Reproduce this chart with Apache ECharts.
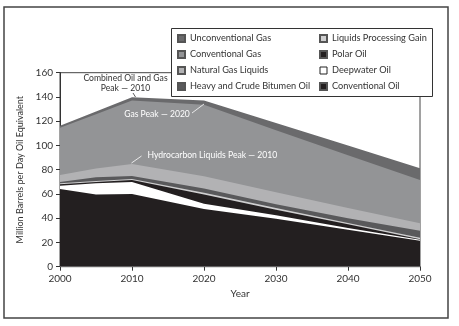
<!DOCTYPE html>
<html>
<head>
<meta charset="utf-8">
<script src="https://cdn.jsdelivr.net/npm/echarts@6/dist/echarts.min.js"></script>
<style>
html,body{margin:0;padding:0;background:#fff;}
#chart{width:459px;height:326px;}
</style>
</head>
<body>
<div id="chart"></div>
<script>
var years = [2000, 2005, 2010, 2020, 2030, 2040, 2050];
var conventionalOil = [64, 59.5, 60, 47.5, 39.5, 30.5, 21.5];
var deepwaterOil = [2.8, 9.3, 9.9, 4.5, 3, 1.5, 0.7];
var polarOil = [1.2, 1.1, 1.6, 7.5, 4.5, 3, 0.4];
var liquidsProcessingGain = [0.8, 0.8, 0.8, 1.5, 1.5, 1, 1.3];
var heavyBitumenOil = [1.0, 3.0, 2.5, 3.5, 3, 4, 5.8];
var naturalGasLiquids = [5.8, 7.3, 9.9, 10, 10, 8.5, 6.1];
var conventionalGas = [38.9, 44.8, 52.3, 59, 51, 43.5, 35.7];
var unconventionalGas = [1.8, 2.2, 2.7, 3.5, 6, 8, 9.6];
var yTicks = [0, 20, 40, 60, 80, 100, 120, 140, 160];
var xTicks = [2000, 2010, 2020, 2030, 2040, 2050];

var layers = [
  {name: 'Conventional Oil', data: conventionalOil, color: '#231f20'},
  {name: 'Deepwater Oil', data: deepwaterOil, color: '#ffffff'},
  {name: 'Polar Oil', data: polarOil, color: '#231f20'},
  {name: 'Liquids Processing Gain', data: liquidsProcessingGain, color: '#cfcfd0'},
  {name: 'Heavy and Crude Bitumen Oil', data: heavyBitumenOil, color: '#59595b'},
  {name: 'Natural Gas Liquids', data: naturalGasLiquids, color: '#b2b2b4'},
  {name: 'Conventional Gas', data: conventionalGas, color: '#939496'},
  {name: 'Unconventional Gas', data: unconventionalGas, color: '#6a6a6c'}
];

var FONT = 'Lato';
var chart = echarts.init(document.getElementById('chart'), null, {renderer: 'canvas'});

// cumulative tops of the stacked layers
var running = years.map(function () { return 0; });
var series = layers.map(function (l) {
  running = running.map(function (v, i) { return v + l.data[i]; });
  var tops = running.slice();
  return {
    name: l.name,
    type: 'line',
    showSymbol: false,
    symbol: 'none',
    data: years.map(function (y, i) { return [y, tops[i]]; }),
    lineStyle: {width: 0, color: l.color},
    itemStyle: {color: l.color, borderColor: '#555', borderWidth: 0.6},
    areaStyle: {color: l.color, opacity: 1, origin: 'start'},
    emphasis: {disabled: true},
    animation: false
  };
}).reverse();

function legendItem(name) {
  var item = {name: name};
  if (name === 'Deepwater Oil') item.itemStyle = {borderColor: '#222', borderWidth: 1};
  return item;
}

var legendCommon = {
  orient: 'vertical',
  icon: 'rect',
  itemWidth: 7,
  itemHeight: 7,
  itemGap: 5,
  padding: 0,
  z: 20,
  selectedMode: false,
  textStyle: {fontFamily: FONT, fontSize: 9.2, lineHeight: 11, color: '#333'}
};

chart.setOption({
  animation: false,
  textStyle: {fontFamily: FONT},
  grid: {left: 60, right: 39, top: 72.7, bottom: 59.3, show: true, borderColor: '#444', borderWidth: 1, backgroundColor: 'transparent'},
  xAxis: {
    type: 'value', min: 2000, max: 2050, interval: 10,
    name: 'Year', nameLocation: 'middle', nameGap: 22,
    nameTextStyle: {fontFamily: FONT, fontSize: 10, color: '#333'},
    axisLine: {lineStyle: {color: '#333', width: 1}},
    axisTick: {show: true, length: 4, lineStyle: {color: '#333'}},
    axisLabel: {fontFamily: FONT, fontSize: 10, color: '#333', margin: 7,
      formatter: function (v) { return xTicks.indexOf(v) >= 0 ? String(v) : ''; }},
    splitLine: {show: false}
  },
  yAxis: {
    type: 'value', min: 0, max: 160, interval: 20,
    name: 'Million Barrels per Day Oil Equivalent', nameLocation: 'middle', nameGap: 19,
    nameTextStyle: {fontFamily: FONT, fontSize: 9, color: '#333'},
    axisLine: {show: true, lineStyle: {color: '#333', width: 1}},
    axisTick: {show: true, length: 4, lineStyle: {color: '#333'}},
    axisLabel: {fontFamily: FONT, fontSize: 10, color: '#333', margin: 7,
      formatter: function (v) { return yTicks.indexOf(v) >= 0 ? String(v) : ''; }},
    splitLine: {show: false}
  },
  legend: [
    Object.assign({}, legendCommon, {
      left: 177, top: 33,
      data: ['Unconventional Gas', 'Conventional Gas', 'Natural Gas Liquids', 'Heavy and Crude Bitumen Oil'].map(legendItem)
    }),
    Object.assign({}, legendCommon, {
      left: 319, top: 33,
      data: ['Liquids Processing Gain', 'Polar Oil', 'Deepwater Oil', 'Conventional Oil'].map(legendItem)
    })
  ],
  graphic: [
    {type: 'rect', z: 15, shape: {x: 4, y: 7, width: 444, height: 311}, style: {fill: 'none', stroke: '#444', lineWidth: 1.5}},
    {type: 'rect', z: 15, shape: {x: 171.5, y: 28.5, width: 261, height: 68}, style: {fill: '#fff', stroke: '#333', lineWidth: 1}},
    {type: 'text', z: 15, x: 125.5, y: 78.5, style: {text: 'Combined Oil and Gas', fill: '#333', font: '8.6px Lato', textAlign: 'center', textVerticalAlign: 'middle'}},
    {type: 'text', z: 15, x: 125.5, y: 88, style: {text: 'Peak \u2014 2010', fill: '#333', font: '8.6px Lato', textAlign: 'center', textVerticalAlign: 'middle'}},
    {type: 'line', z: 15, shape: {x1: 133, y1: 93, x2: 135.5, y2: 97}, style: {stroke: '#333', lineWidth: 0.8}},
    {type: 'text', z: 15, x: 157, y: 114, style: {text: 'Gas Peak \u2014 2020', fill: '#fff', font: '8.6px Lato', textAlign: 'center', textVerticalAlign: 'middle'}},
    {type: 'line', z: 15, shape: {x1: 192, y1: 113, x2: 204, y2: 104}, style: {stroke: '#fff', lineWidth: 0.8}},
    {type: 'text', z: 15, x: 147.5, y: 155, style: {text: 'Hydrocarbon Liquids Peak \u2014 2010', fill: '#fff', font: '8.6px Lato', textAlign: 'left', textVerticalAlign: 'middle'}},
    {type: 'line', z: 15, shape: {x1: 131.5, y1: 163, x2: 141.5, y2: 156}, style: {stroke: '#fff', lineWidth: 0.8}}
  ],
  series: series
});
</script>
</body>
</html>
